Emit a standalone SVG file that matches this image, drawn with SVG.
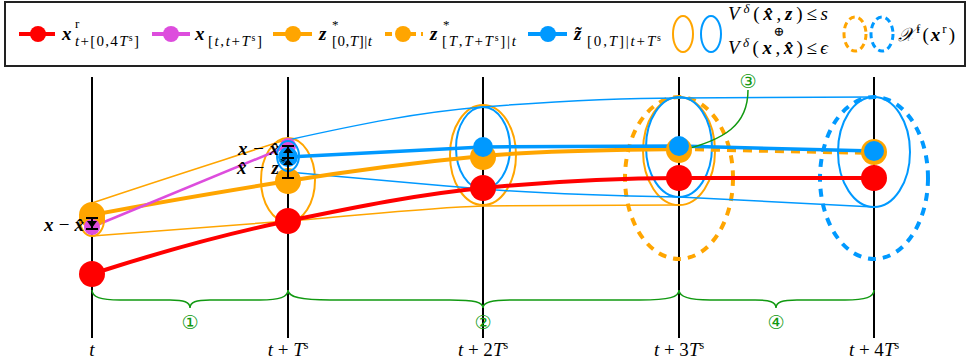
<svg xmlns="http://www.w3.org/2000/svg" width="971" height="362" viewBox="0 0 971 362">
<style>
.m{font-family:"Liberation Serif","DejaVu Serif",serif;font-style:italic;font-size:19px;fill:#000}
.b{font-weight:bold}
.up{font-style:normal;font-weight:normal}
.sub{font-family:"Liberation Serif","DejaVu Serif",serif;font-size:15px;fill:#000}
.sup{font-family:"Liberation Serif","DejaVu Serif",serif;font-size:13px;fill:#000}
.vl{stroke:#000;stroke-width:2;fill:none}
.red{fill:#ff0000}.mag{fill:#dd4ddd}.org{fill:#ffa500}.blu{fill:#0099ff}
.sred{stroke:#ff0000;fill:none}.smag{stroke:#dd4ddd;fill:none}.sorg{stroke:#ffa500;fill:none}.sblu{stroke:#0099ff;fill:none}
.grn{stroke:#119911;stroke-width:1.5;fill:none}
.gt{font-family:"DejaVu Sans",sans-serif;font-size:19px;fill:#119911}
.ax{font-family:"Liberation Serif",serif;font-size:19px;fill:#000}
.bar{stroke:#000;stroke-width:2;fill:none}
</style>
<g id="legend">
<rect x="5" y="2" width="960" height="64" fill="#fff" stroke="#222" stroke-width="2"/>
<line x1="19" y1="34" x2="55" y2="34" class="sred" stroke-width="4"/><circle cx="38" cy="34" r="8" class="red"/>
<text x="62" y="40" class="m b" font-size="21">x</text><text x="75" y="28" class="sup">r</text>
<text x="75" y="46" class="sub" textLength="64"><tspan font-style="italic">t</tspan>+[0,4<tspan font-style="italic">T</tspan><tspan font-size="10" dy="-5">s</tspan><tspan dy="5">]</tspan></text>
<line x1="152" y1="34" x2="190" y2="34" class="smag" stroke-width="4"/><circle cx="171" cy="34" r="8" class="mag"/>
<text x="195" y="40" class="m b" font-size="21">x</text>
<text x="208" y="46" class="sub" textLength="54">[<tspan font-style="italic">t</tspan>,<tspan font-style="italic">t</tspan>+<tspan font-style="italic">T</tspan><tspan font-size="10" dy="-5">s</tspan><tspan dy="5">]</tspan></text>
<line x1="273" y1="34" x2="312" y2="34" class="sorg" stroke-width="4"/><circle cx="293" cy="34" r="8" class="org"/>
<text x="319" y="40" class="m b" font-size="21">z</text><text x="332" y="29" class="sup" font-size="14">*</text>
<text x="332" y="46" class="sub" textLength="40">[0,<tspan font-style="italic">T</tspan>]|<tspan font-style="italic">t</tspan></text>
<line x1="385" y1="34" x2="423" y2="34" class="sorg" stroke-width="4" stroke-dasharray="7,5"/><circle cx="403" cy="34" r="8" class="org"/>
<text x="430" y="40" class="m b" font-size="21">z</text><text x="443" y="29" class="sup" font-size="14">*</text>
<text x="442" y="46" class="sub" textLength="74">[<tspan font-style="italic">T</tspan>,<tspan font-style="italic">T</tspan>+<tspan font-style="italic">T</tspan><tspan font-size="10" dy="-5">s</tspan><tspan dy="5">]|</tspan><tspan font-style="italic">t</tspan></text>
<line x1="528" y1="34" x2="567" y2="34" class="sblu" stroke-width="4"/><circle cx="548" cy="34" r="8" class="blu"/>
<text x="574" y="40" class="m b" font-size="21">z̃</text>
<text x="587" y="46" class="sub" textLength="74">[0,<tspan font-style="italic">T</tspan>]|<tspan font-style="italic">t</tspan>+<tspan font-style="italic">T</tspan><tspan font-size="10" dy="-5">s</tspan></text>
<ellipse cx="683" cy="34" rx="10" ry="18" class="sorg" stroke-width="2"/>
<ellipse cx="711" cy="34" rx="10" ry="18" class="sblu" stroke-width="2"/>
<text x="728" y="20" class="m" font-size="19" textLength="100"><tspan>V</tspan><tspan font-size="13" dy="-7">δ</tspan><tspan class="up" dy="7">(</tspan><tspan class="b">x̂</tspan><tspan class="up">,</tspan><tspan class="b">z</tspan><tspan class="up">)≤</tspan>s</text>
<text x="779" y="36" class="sup" font-size="11" text-anchor="middle" fill="#333">⊕</text>
<text x="728" y="54" class="m" font-size="19" textLength="100"><tspan>V</tspan><tspan font-size="13" dy="-7">δ</tspan><tspan class="up" dy="7">(</tspan><tspan class="b">x</tspan><tspan class="up">,</tspan><tspan class="b">x̂</tspan><tspan class="up">)≤</tspan>ϵ</text>
<ellipse cx="855" cy="34" rx="11" ry="17" class="sorg" stroke-width="3" stroke-dasharray="6,4"/>
<ellipse cx="882" cy="34" rx="11" ry="17" class="sblu" stroke-width="3" stroke-dasharray="6,4"/>
<text x="898" y="41" class="m" font-size="19" textLength="57">𝒳<tspan class="up" font-size="13" dy="-8">f</tspan><tspan class="up" dy="8">(</tspan><tspan class="b">x</tspan><tspan class="up" font-size="13" dy="-8">r</tspan><tspan class="up" dy="8">)</tspan></text>
</g>
<g id="axes">
<line x1="92" y1="77" x2="92" y2="338" class="vl"/>
<line x1="288" y1="77" x2="288" y2="338" class="vl"/>
<line x1="483" y1="77" x2="483" y2="338" class="vl"/>
<line x1="679" y1="77" x2="679" y2="338" class="vl"/>
<line x1="874" y1="77" x2="874" y2="338" class="vl"/>
<text x="92" y="356" class="ax" text-anchor="middle" font-style="italic">t</text>
<text x="288" y="356" class="ax" text-anchor="middle"><tspan font-style="italic">t</tspan> + <tspan font-style="italic">T</tspan><tspan font-size="12" dy="-7">s</tspan></text>
<text x="483" y="356" class="ax" text-anchor="middle"><tspan font-style="italic">t</tspan> + 2<tspan font-style="italic">T</tspan><tspan font-size="12" dy="-7">s</tspan></text>
<text x="679" y="356" class="ax" text-anchor="middle"><tspan font-style="italic">t</tspan> + 3<tspan font-style="italic">T</tspan><tspan font-size="12" dy="-7">s</tspan></text>
<text x="874" y="356" class="ax" text-anchor="middle"><tspan font-style="italic">t</tspan> + 4<tspan font-style="italic">T</tspan><tspan font-size="12" dy="-7">s</tspan></text>
</g>
<g id="sets">
<ellipse cx="679" cy="178" rx="54" ry="81" class="sorg" stroke-width="4" stroke-dasharray="8,7"/>
<ellipse cx="874" cy="178" rx="54" ry="81" class="sblu" stroke-width="4" stroke-dasharray="8,7"/>
<ellipse cx="288" cy="180" rx="27" ry="42" class="sorg" stroke-width="2"/>
<ellipse cx="483" cy="155" rx="33" ry="50" class="sorg" stroke-width="2"/>
<ellipse cx="679" cy="151" rx="36" ry="54" class="sorg" stroke-width="2"/>
<ellipse cx="483" cy="148" rx="27" ry="41" class="sblu" stroke-width="2"/>
<ellipse cx="679" cy="147" rx="33" ry="50" class="sblu" stroke-width="2"/>
<ellipse cx="874" cy="152" rx="36" ry="55" class="sblu" stroke-width="2"/>
</g>
<g id="connectors">
<path d="M92,203 C160,180 230,158 288,139" class="sorg" stroke-width="1.5"/>
<path d="M92,236 C170,230 230,225 288,221 S420,208 483,206 L679,205" class="sorg" stroke-width="1.5"/>
<path d="M288,140 C360,124 420,112 483,107 S620,98 679,98 L874,97" class="sblu" stroke-width="1.5"/>
<path d="M288,172 C360,178 420,184 483,189 S620,196 679,197 L874,207" class="sblu" stroke-width="1.5"/>
<path d="M92,274 C160,252 220,235 288,221 S420,194 483,188 S620,178 679,178 L874,178" class="sred" stroke-width="4"/>
<path d="M92,215 C160,202 220,192 288,181 S420,162 483,156 S620,150 679,149" class="sorg" stroke-width="4"/>
<path d="M679,149 L874,153" class="sorg" stroke-width="4" stroke-dasharray="9,7"/>
<path d="M288,157 L483,147 L679,146 L874,151" class="sblu" stroke-width="3.5"/>
<path d="M92,227 L288,146" class="smag" stroke-width="2.5"/>
<path d="M92,290 C92,297 100,300 120,300 L170,300 C184,300 190,302 190,308 C190,302 196,300 210,300 L260,300 C280,300 288,297 288,290" class="grn"/>
<path d="M288,290 C288,297 300,300 330,300 L450,300 C475,300 483,302 483,308 C483,302 491,300 516,300 L640,300 C670,300 679,297 679,290" class="grn"/>
<path d="M679,290 C679,297 690,300 710,300 L755,300 C770,300 776,302 776,308 C776,302 782,300 797,300 L845,300 C866,300 874,297 874,290" class="grn"/>
<path d="M748,90 C748,125 725,140 679,151" class="grn"/>
</g>
<g id="node-t">
<circle cx="92" cy="274" r="13" class="red"/>
<circle cx="92" cy="215" r="13" class="org"/>
<ellipse cx="92" cy="220" rx="12" ry="16" class="sorg" stroke-width="2"/>
<circle cx="92" cy="227" r="8" class="mag"/>
<line x1="92" y1="218" x2="92" y2="229" class="bar"/><line x1="86" y1="218" x2="98" y2="218" class="bar"/><line x1="86" y1="229" x2="98" y2="229" class="bar"/>
<polygon points="87,221 97,221 92,228"/>
<text x="84" y="231" class="m b" font-size="21" text-anchor="end" textLength="40">x<tspan class="up">−</tspan>x̂</text>
</g>
<g id="node-t1">
<circle cx="288" cy="221" r="13" class="red"/>
<circle cx="288" cy="181" r="13" class="org"/>
<circle cx="288" cy="146" r="8" class="mag"/>
<circle cx="288" cy="157" r="10" class="blu"/>
<ellipse cx="288" cy="156" rx="11" ry="15" class="sblu" stroke-width="2"/>
<line x1="288" y1="146" x2="288" y2="178" class="bar"/>
<line x1="282" y1="146" x2="294" y2="146" class="bar"/><line x1="282" y1="158" x2="294" y2="158" class="bar"/><line x1="282" y1="178" x2="294" y2="178" class="bar"/>
<polygon points="283,153 293,153 288,147"/><polygon points="283,165 293,165 288,159"/>
<text x="279" y="155" class="m b" font-size="20" text-anchor="end" textLength="41">x<tspan class="up">−</tspan>x̂</text>
<text x="279" y="174" class="m b" font-size="20" text-anchor="end" textLength="42">x̂<tspan class="up">−</tspan>z</text>
<text x="280" y="166" class="sup" font-size="14">*</text>
</g>
<g id="node-t2">
<circle cx="483" cy="188" r="13" class="red"/>
<circle cx="483" cy="157" r="13" class="org"/>
<circle cx="483" cy="147" r="10" class="blu"/>
</g>
<g id="node-t3">
<circle cx="679" cy="178" r="13" class="red"/>
<circle cx="679" cy="150" r="13" class="org"/>
<circle cx="679" cy="146" r="10" class="blu"/>
</g>
<g id="node-t4">
<circle cx="874" cy="178" r="13" class="red"/>
<circle cx="874" cy="152" r="13" class="org"/>
<circle cx="874" cy="151" r="10" class="blu"/>
</g>
<g id="labels">
<text x="190" y="329" class="gt" text-anchor="middle">①</text>
<text x="483" y="329" class="gt" text-anchor="middle">②</text>
<text x="748" y="88" class="gt" text-anchor="middle">③</text>
<text x="776" y="329" class="gt" text-anchor="middle">④</text>
</g>
</svg>
